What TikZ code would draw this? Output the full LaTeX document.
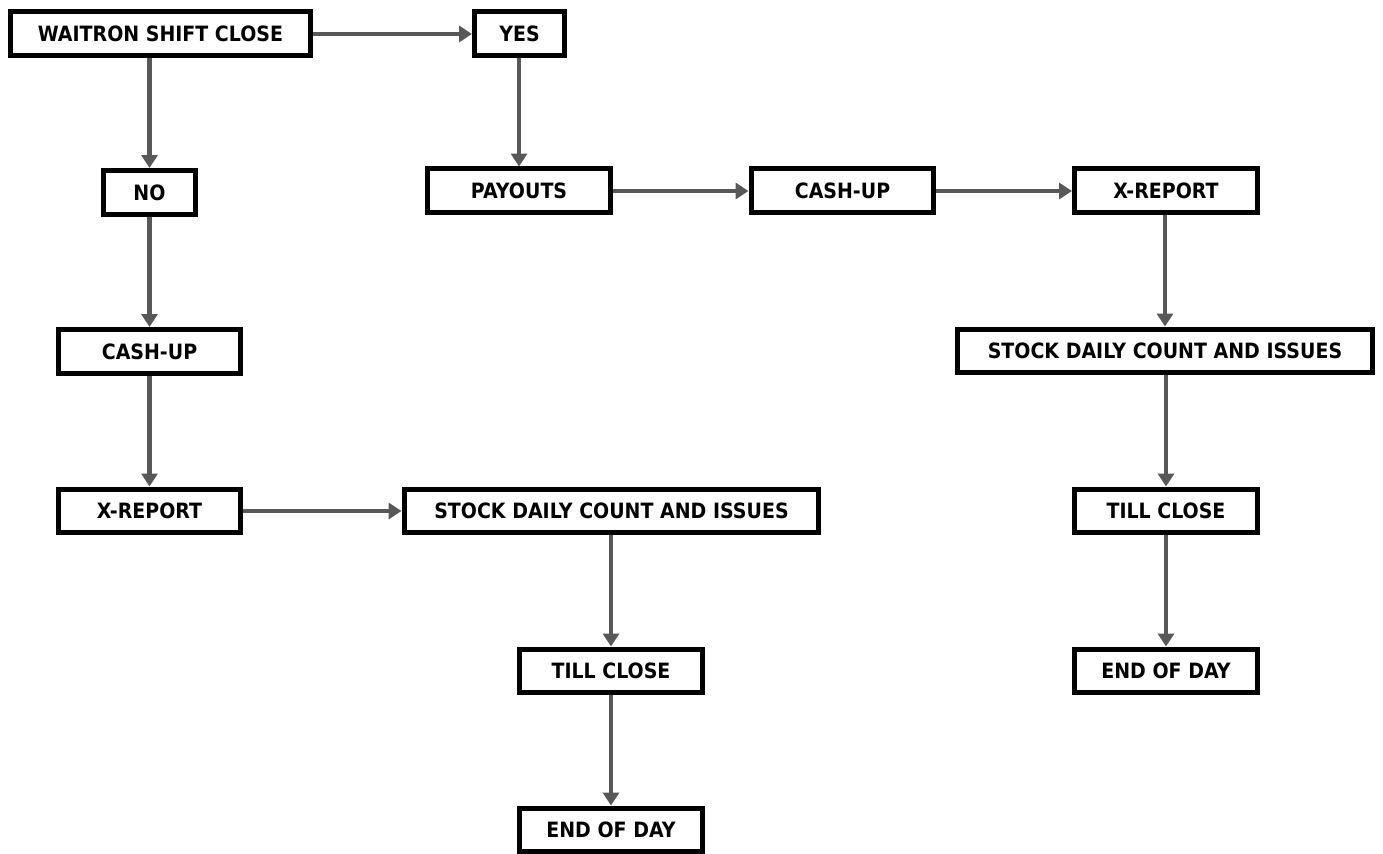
\documentclass[tikz,border=0pt]{standalone}
\usepackage{fontspec}
\setmainfont{DejaVu Sans}[FakeStretch=0.9]
\usetikzlibrary{arrows.meta}
\definecolor{arrowgray}{RGB}{88,88,88}
\tikzset{
  stepbox/.style={draw=black, line width=0.1cm, fill=white, rectangle,
    minimum height=0.88cm, minimum width=3.66cm, inner sep=0pt,
    font=\fontsize{12}{12}\selectfont\bfseries, text=black},
  flow/.style={draw=arrowgray, line width=0.09cm,
    -{Triangle[width=0.32cm,length=0.26cm]}}
}
\begin{document}
\begin{tikzpicture}[x=0.02cm, y=-0.02cm]
\useasboundingbox[fill=white] (0,0) rectangle (1383,854);

% left branch
\node[stepbox, minimum width=6.0cm]  (ws)  at (160.5,34)  {WAITRON SHIFT CLOSE};
\node[stepbox, minimum width=1.84cm] (no)  at (149.5,192.5) {NO};
\node[stepbox]                       (cu2) at (149.5,351.5) {CASH-UP};
\node[stepbox]                       (xr2) at (149.5,511)   {X-REPORT};
\node[stepbox, minimum width=8.3cm]  (st2) at (611.5,511)   {STOCK DAILY COUNT AND ISSUES};
\node[stepbox]                       (tc2) at (611,671)     {TILL CLOSE};
\node[stepbox]                       (ed2) at (611,830)     {END OF DAY};

% right branch
\node[stepbox, minimum width=1.8cm]  (yes) at (519.5,34)  {YES};
\node[stepbox]                       (pay) at (519,191)   {PAYOUTS};
\node[stepbox]                       (cu1) at (842.5,191) {CASH-UP};
\node[stepbox]                       (xr1) at (1166,191)  {X-REPORT};
\node[stepbox, minimum width=8.3cm]  (st1) at (1165,351)  {STOCK DAILY COUNT AND ISSUES};
\node[stepbox]                       (tc1) at (1166,511)  {TILL CLOSE};
\node[stepbox]                       (ed1) at (1166,671)  {END OF DAY};

% connectors
\draw[flow] (ws.east) -- (yes.west);
\draw[flow] (no.north |- ws.south) -- (no.north);
\draw[flow] (no) -- (cu2);
\draw[flow] (cu2) -- (xr2);
\draw[flow] (xr2) -- (st2);
\draw[flow] (st2.south -| tc2.north) -- (tc2.north);
\draw[flow] (tc2) -- (ed2);

\draw[flow] (yes.south -| pay.north) -- (pay.north);
\draw[flow] (pay) -- (cu1);
\draw[flow] (cu1) -- (xr1);
\draw[flow] (xr1.south -| st1.north) -- (st1.north);
\draw[flow] (st1.south -| tc1.north) -- (tc1.north);
\draw[flow] (tc1) -- (ed1);
\end{tikzpicture}
\end{document}
